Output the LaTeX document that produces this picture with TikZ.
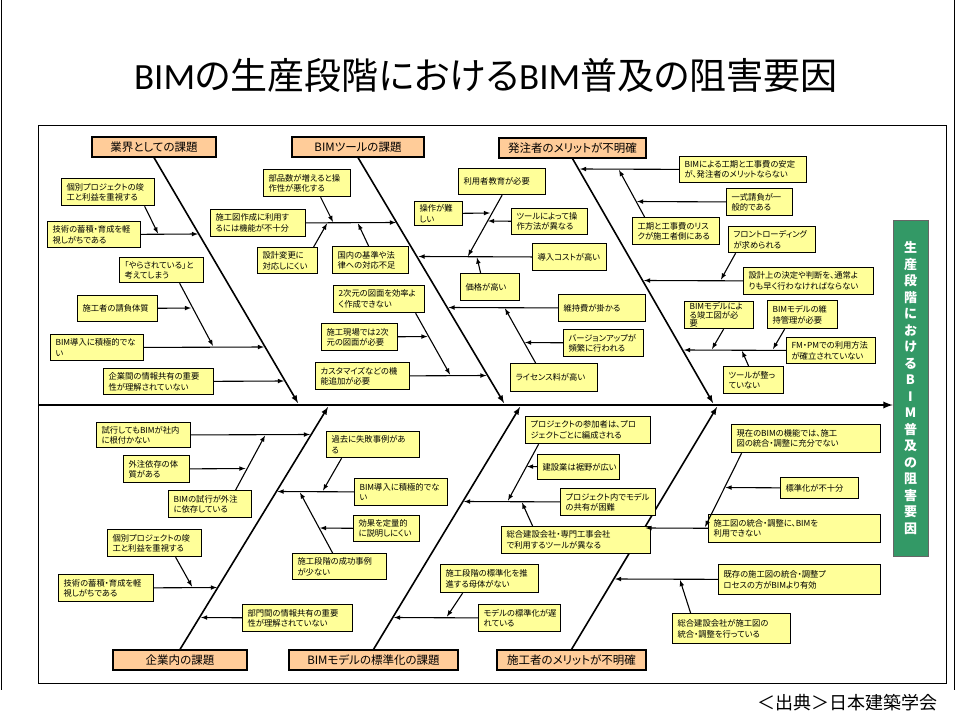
\documentclass[tikz,border=0pt]{standalone}
\usepackage{fontspec}
\setmainfont{Noto Sans CJK JP}[RawFeature=+palt]
\newfontfamily\latinfont{Carlito}
\definecolor{causeyellow}{HTML}{FFFF99}
\definecolor{headpeach}{HTML}{FFCC99}
\definecolor{bargreen}{HTML}{339966}
\begin{document}
\begin{tikzpicture}[x=1pt, y=-1pt,
    head/.style={draw, fill=headpeach, line width=1.2pt, minimum height=20pt,
                 inner sep=0pt, font=\fontsize{11.5}{13}\selectfont},
    cause/.style={draw, fill=causeyellow, line width=1.2pt, anchor=north west,
                  align=left, inner xsep=5pt, inner ysep=0pt,
                  font=\fontsize{8.3}{10.5}\selectfont},
    bone/.style={-latex, line width=1.6pt},
    twig/.style={-latex, line width=1.1pt}]
 \useasboundingbox (0,0) rectangle (955,720);
 \draw[line width=0.8pt] (1,0) -- (1,690) (954,0) -- (954,690);
 \draw[line width=0.8pt] (38,125) rectangle (946,683);

 \node[font=\fontsize{37}{40}\selectfont] (title) at (486,75)
   {{\latinfont BIM}の生産段階における{\latinfont BIM}普及の阻害要因};
 \node[anchor=east, font=\fontsize{18}{20}\selectfont] (source) at (941,703)
   {＜出典＞日本建築学会};

 % goal and spine
 \node[draw=black!60, fill=bargreen, minimum width=35pt, minimum height=336pt,
       inner sep=0pt, align=center, text=white,
       font=\bfseries\fontsize{13}{16.5}\selectfont] (goal) at (910.5,388)
   {生\\産\\段\\階\\に\\お\\け\\る\\B\\I\\M\\普\\及\\の\\阻\\害\\要\\因};
 \coordinate (spine-start) at (38,405);
 \draw[-latex, line width=2.2pt] (spine-start) -- (spine-start -| goal.west);

 % main bones
 \node[head, minimum width=124pt] (gyokai) at (154,147) {業界としての課題};
 \node[head, minimum width=132pt] (tool) at (358,147) {BIMツールの課題};
 \node[head, minimum width=147pt] (hatchu) at (572.5,148) {発注者のメリットが不明確};
 \node[head, minimum width=134pt] (kigyo) at (180,660) {企業内の課題};
 \node[head, minimum width=169pt] (hyojun) at (373.5,660) {BIMモデルの標準化の課題};
 \node[head, minimum width=149pt] (seko) at (571.5,660) {施工者のメリットが不明確};
 \coordinate (gyokai-end) at (298,403);
 \coordinate (tool-end) at (504,403);
 \coordinate (hatchu-end) at (713,403);
 \coordinate (kigyo-end) at (328,407);
 \coordinate (hyojun-end) at (520,407);
 \coordinate (seko-end) at (717,407);
 \draw[bone] (gyokai.south) -- (gyokai-end);
 \draw[bone] (tool.south) -- (tool-end);
 \draw[bone] (hatchu.south) -- (hatchu-end);
 \draw[bone] (kigyo.north) -- (kigyo-end);
 \draw[bone] (hyojun.north) -- (hyojun-end);
 \draw[bone] (seko.north) -- (seko-end);

 % 業界としての課題
 \node[cause, text width=83pt, minimum height=26pt] (gk-a) at (47,221) {技術の蓄積・育成を軽\\視しがちである};
 \node[cause, text width=83pt, minimum height=27pt] (gk-a1) at (61,178) {個別プロジェクトの竣\\工と利益を重視する};
 \node[cause, text width=83pt, minimum height=26pt] (gk-b) at (50,334) {BIM導入に積極的でな\\い};
 \node[cause, text width=74pt, minimum height=25pt] (gk-b1) at (119,257) {「やらされている」と\\考えてしまう};
 \node[cause, text width=70pt, minimum height=26pt] (gk-b2) at (77,295) {施工者の請負体質};
 \node[cause, text width=100pt, minimum height=26pt] (gk-c) at (103,368) {企業間の情報共有の重要\\性が理解されていない};
 \coordinate (gk-a-tip) at (198,234);
 \coordinate (gk-a1-tip) at (158,233.5);
 \coordinate (gk-b-tip) at (264,347);
 \coordinate (gk-b1-tip) at (213,346);
 \coordinate (gk-b2-tip) at (191,308);
 \coordinate (gk-c-tip) at (284,381);
 \draw[twig] (gk-a) -- (gk-a-tip);
 \draw[twig] ([xshift=36.5pt]gk-a1.south) -- (gk-a1-tip);
 \draw[twig] (gk-b) -- (gk-b-tip);
 \draw[twig] ([xshift=18pt]gk-b1.south) -- (gk-b1-tip);
 \draw[twig] (gk-b2) -- (gk-b2-tip);
 \draw[twig] (gk-c) -- (gk-c-tip);

 % BIMツールの課題
 \node[cause, text width=85pt, minimum height=27pt] (tl-a) at (210,209) {施工図作成に利用す\\るには機能が不十分};
 \node[cause, text width=77pt, minimum height=27pt] (tl-a1) at (263,169) {部品数が増えると操\\作性が悪化する};
 \node[cause, text width=50pt, minimum height=26pt] (tl-a2) at (257,247) {設計変更に\\対応しにくい};
 \node[cause, text width=66pt, minimum height=27pt] (tl-a3) at (332,246) {国内の基準や法\\律への対応不足};
 \node[cause, text width=64pt, minimum height=27pt] (tl-b) at (532,243) {導入コストが高い};
 \node[cause, text width=77pt, minimum height=26pt] (tl-b1) at (458,168) {利用者教育が必要};
 \node[cause, text width=38pt, minimum height=24pt] (tl-b2) at (414,201) {操作が難\\しい};
 \node[cause, text width=66pt, minimum height=26pt] (tl-b3) at (511,208) {ツールによって操\\作方法が異なる};
 \node[cause, text width=49pt, minimum height=27pt] (tl-b4) at (460,273) {価格が高い};
 \node[cause, text width=84pt, minimum height=27pt] (tl-c) at (315,362) {カスタマイズなどの機\\能追加が必要};
 \node[cause, text width=81pt, minimum height=27pt] (tl-c1) at (333,285) {2次元の図面を効率よ\\く作成できない};
 \node[cause, text width=66pt, minimum height=27pt] (tl-c2) at (321,323) {施工現場では2次\\元の図面が必要};
 \node[cause, text width=77pt, minimum height=27pt] (tl-d) at (558,294) {維持費が掛かる};
 \node[cause, text width=70pt, minimum height=27pt] (tl-d1) at (563,329) {バージョンアップが\\頻繁に行われる};
 \node[cause, text width=77pt, minimum height=28pt] (tl-d2) at (510,363) {ライセンス料が高い};
 \coordinate (tl-a-tip) at (396,222.5);
 \coordinate (tl-a1-tip) at (333,222);
 \coordinate (tl-a2-tip) at (327,223.5);
 \coordinate (tl-a3-tip) at (358,223.5);
 \coordinate (tl-b-tip) at (418.5,256.5);
 \coordinate (tl-b1-tip) at (468,256);
 \coordinate (tl-b2-tip) at (490,213);
 \coordinate (tl-b3-tip) at (488,221);
 \coordinate (tl-b4-tip) at (477,257.5);
 \coordinate (tl-c-tip) at (486.5,375.5);
 \coordinate (tl-c1-tip) at (450,374.5);
 \coordinate (tl-c2-tip) at (427.5,336.5);
 \coordinate (tl-d-tip) at (448.5,307.5);
 \coordinate (tl-d1-tip) at (525,342.5);
 \coordinate (tl-d2-tip) at (505,308.5);
 \draw[twig] (tl-a) -- (tl-a-tip);
 \draw[twig] ([xshift=13.5pt]tl-a1.south) -- (tl-a1-tip);
 \draw[twig] ([xshift=26pt]tl-a2.north) -- (tl-a2-tip);
 \draw[twig] ([xshift=-2pt]tl-a3.north) -- (tl-a3-tip);
 \draw[twig] (tl-b) -- (tl-b-tip);
 \draw[twig] (tl-b1.south) -- (tl-b1-tip);
 \draw[twig] (tl-b2) -- (tl-b2-tip);
 \draw[twig] (tl-b3) -- (tl-b3-tip);
 \draw[twig] ([xshift=-9.5pt]tl-b4.north) -- (tl-b4-tip);
 \draw[twig] (tl-c) -- (tl-c-tip);
 \draw[twig] ([xshift=36.5pt]tl-c1.south) -- (tl-c1-tip);
 \draw[twig] (tl-c2) -- (tl-c2-tip);
 \draw[twig] (tl-d) -- (tl-d-tip);
 \draw[twig] (tl-d1) -- (tl-d1-tip);
 \draw[twig] ([xshift=-18.5pt]tl-d2.north) -- (tl-d2-tip);

 % 発注者のメリットが不明確
 \node[cause, text width=117pt, minimum height=26pt] (hc-a) at (679,156) {BIMによる工期と工事費の安定\\が、発注者のメリットならない};
 \node[cause, text width=77pt, minimum height=27pt] (hc-a1) at (632,217) {工期と工事費のリス\\クが施工者側にある};
 \node[cause, text width=56pt, minimum height=27pt] (hc-a2) at (726,188) {一式請負が一\\般的である};
 \node[cause, text width=120pt, minimum height=27pt] (hc-b) at (743,267) {設計上の決定や判断を、通常よ\\りも早く行わなければならない};
 \node[cause, text width=77pt, minimum height=26pt] (hc-b1) at (728,226) {フロントローディング\\が求められる};
 \node[cause, text width=79pt, minimum height=26pt] (hc-c) at (786,337) {FM・PMでの利用方法\\が確立されていない};
 \node[cause, text width=59pt, minimum height=27pt, font=\fontsize{8.3}{8.6}\selectfont] (hc-c1) at (684,301) {BIMモデルによ\\る竣工図が必\\要};
 \node[cause, text width=60pt, minimum height=28pt] (hc-c2) at (767,300) {BIMモデルの維\\持管理が必要};
 \node[cause, text width=50pt, minimum height=27pt] (hc-c3) at (723,366) {ツールが整っ\\ていない};
 \coordinate (hc-a-tip) at (580,169);
 \coordinate (hc-a1-tip) at (619,170);
 \coordinate (hc-a2-tip) at (637,201.5);
 \coordinate (hc-b-tip) at (644,280.5);
 \coordinate (hc-b1-tip) at (721,279.5);
 \coordinate (hc-c-tip) at (684,350);
 \coordinate (hc-c1-tip) at (712,349);
 \coordinate (hc-c2-tip) at (773,349);
 \coordinate (hc-c3-tip) at (742,351);
 \draw[twig] (hc-a) -- (hc-a-tip);
 \draw[twig] ([xshift=-31.5pt]hc-a1.north) -- (hc-a1-tip);
 \draw[twig] (hc-a2) -- (hc-a2-tip);
 \draw[twig] (hc-b) -- (hc-b-tip);
 \draw[twig] ([xshift=-36.5pt]hc-b1.south) -- (hc-b1-tip);
 \draw[twig] (hc-c) -- (hc-c-tip);
 \draw[twig] ([xshift=4.5pt]hc-c1.south) -- (hc-c1-tip);
 \draw[twig] ([xshift=-18pt]hc-c2.south) -- (hc-c2-tip);
 \draw[twig] ([xshift=-5pt]hc-c3.north) -- (hc-c3-tip);

 % 企業内の課題
 \node[cause, text width=84pt, minimum height=25pt] (kg-a) at (96,422) {試行してもBIMが社内\\に根付かない};
 \node[cause, text width=56pt, minimum height=27pt] (kg-a1) at (123,455) {外注依存の体\\質がある};
 \node[cause, text width=73pt, minimum height=27pt] (kg-a2) at (168,490) {BIMの試行が外注\\に依存している};
 \node[cause, text width=85pt, minimum height=27pt] (kg-b) at (58,574) {技術の蓄積・育成を軽\\視しがちである};
 \node[cause, text width=84pt, minimum height=27pt] (kg-b1) at (107,529) {個別プロジェクトの竣\\工と利益を重視する};
 \node[cause, text width=100pt, minimum height=27pt] (kg-c) at (242,604) {部門間の情報共有の重要\\性が理解されていない};
 \node[cause, text width=83pt, minimum height=27pt] (kg-d) at (354,478) {BIM導入に積極的でな\\い};
 \node[cause, text width=83pt, minimum height=26pt] (kg-d1) at (326,431) {過去に失敗事例があ\\る};
 \node[cause, text width=84pt, minimum height=26pt] (kg-e) at (292,553) {施工段階の成功事例\\が少ない};
 \node[cause, text width=56pt, minimum height=26pt] (kg-e1) at (353,515) {効果を定量的\\に説明しにくい};
 \coordinate (kg-a-tip) at (310,434.5);
 \coordinate (kg-a1-tip) at (245.5,468.5);
 \coordinate (kg-a2-tip) at (265,435.5);
 \coordinate (kg-b-tip) at (217,587.5);
 \coordinate (kg-b1-tip) at (192,586.5);
 \coordinate (kg-c-tip) at (201,617.5);
 \coordinate (kg-d-tip) at (277.5,491.5);
 \coordinate (kg-d1-tip) at (323,490.5);
 \coordinate (kg-e-tip) at (300,492.5);
 \coordinate (kg-e1-tip) at (320,528);
 \draw[twig] (kg-a) -- (kg-a-tip);
 \draw[twig] (kg-a1) -- (kg-a1-tip);
 \draw[twig] ([xshift=25.5pt]kg-a2.north) -- (kg-a2-tip);
 \draw[twig] (kg-b) -- (kg-b-tip);
 \draw[twig] ([xshift=21pt]kg-b1.south) -- (kg-b1-tip);
 \draw[twig] (kg-c) -- (kg-c-tip);
 \draw[twig] (kg-d) -- (kg-d-tip);
 \draw[twig] ([xshift=-31.5pt]kg-d1.south) -- (kg-d1-tip);
 \draw[twig] ([xshift=-7pt]kg-e.north) -- (kg-e-tip);
 \draw[twig] (kg-e1) -- (kg-e1-tip);

 % BIMモデルの標準化の課題
 \node[cause, text width=85pt, minimum height=27pt] (hy-a) at (560,488) {プロジェクト内でモデル\\の共有が困難};
 \node[cause, text width=115pt, minimum height=27pt] (hy-a1) at (525,416) {プロジェクトの参加者は、プロ\\ジェクトごとに編成される};
 \node[cause, text width=72pt, minimum height=25pt] (hy-a2) at (537,454) {建設業は裾野が広い};
 \node[cause, text width=139pt, minimum height=27pt] (hy-a3) at (501,526) {総合建設会社・専門工事会社\\で利用するツールが異なる};
 \node[cause, text width=72pt, minimum height=27pt] (hy-b) at (478,604) {モデルの標準化が遅\\れている};
 \node[cause, text width=88pt, minimum height=28pt] (hy-b1) at (440,564) {施工段階の標準化を推\\進する母体がない};
 \coordinate (hy-a-tip) at (464,501.5);
 \coordinate (hy-a1-tip) at (508,500.5);
 \coordinate (hy-a2-tip) at (527,466.5);
 \coordinate (hy-a3-tip) at (522,502.5);
 \coordinate (hy-b-tip) at (394,617.5);
 \coordinate (hy-b1-tip) at (447,616.5);
 \draw[twig] (hy-a) -- (hy-a-tip);
 \draw[twig] ([xshift=-49.5pt]hy-a1.south) -- (hy-a1-tip);
 \draw[twig] (hy-a2) -- (hy-a2-tip);
 \draw[twig] ([xshift=-43.5pt]hy-a3.north) -- (hy-a3-tip);
 \draw[twig] (hy-b) -- (hy-b-tip);
 \draw[twig] ([xshift=-27pt]hy-b1.south) -- (hy-b1-tip);

 % 施工者のメリットが不明確
 \node[cause, text width=162pt, minimum height=28pt] (sk-a) at (708,514) {施工図の統合・調整に、BIMを\\利用できない};
 \node[cause, text width=139pt, minimum height=28pt] (sk-a1) at (731,424) {現在のBIMの機能では、施工\\図の統合・調整に充分でない};
 \node[cause, text width=68pt, minimum height=21pt] (sk-a2) at (780,477) {標準化が不十分};
 \node[cause, text width=152pt, minimum height=30pt] (sk-b) at (718,564) {既存の施工図の統合・調整プ\\ロセスの方がBIMより有効};
 \node[cause, text width=108pt, minimum height=30pt] (sk-b1) at (672,613) {総合建設会社が施工図の\\統合・調整を行っている};
 \coordinate (sk-a-tip) at (645.5,528);
 \coordinate (sk-a1-tip) at (705,527);
 \coordinate (sk-a2-tip) at (725.5,487.5);
 \coordinate (sk-b-tip) at (615,579);
 \coordinate (sk-b1-tip) at (680,580);
 \draw[twig] (sk-a) -- (sk-a-tip);
 \draw[twig] ([xshift=-64.5pt]sk-a1.south) -- (sk-a1-tip);
 \draw[twig] (sk-a2) -- (sk-a2-tip);
 \draw[twig] (sk-b) -- (sk-b-tip);
 \draw[twig] ([xshift=-41pt]sk-b1.north) -- (sk-b1-tip);
\end{tikzpicture}
\end{document}
